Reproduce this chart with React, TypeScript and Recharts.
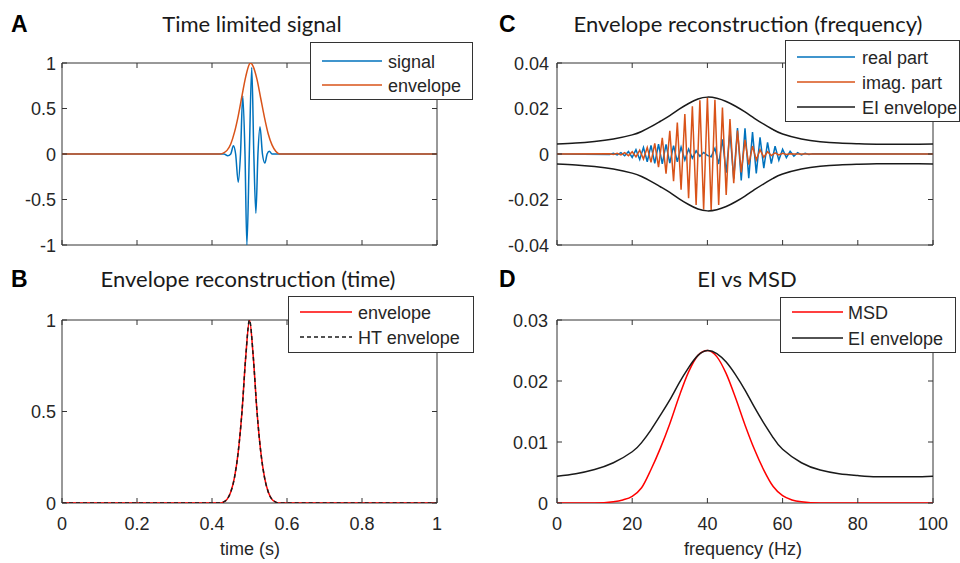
import React from "react";
import { LineChart, Line, XAxis, YAxis, ReferenceArea } from "recharts";

// ---- tick values ----
const timeTicks = [0, 0.2, 0.4, 0.6, 0.8, 1];
const freqTicks = [0, 20, 40, 60, 80, 100];
const aTicksY = [-1, -0.5, 0, 0.5, 1];
const bTicksY = [0, 0.5, 1];
const cTicksY = [-0.04, -0.02, 0, 0.02, 0.04];
const dTicksY = [0, 0.01, 0.02, 0.03];

// ---- A: time limited signal ----
const sigT = [0, 0.432, 0.442, 0.45, 0.457, 0.463, 0.47, 0.476, 0.482, 0.488, 0.493, 0.4995, 0.506, 0.5115, 0.517, 0.5225, 0.528, 0.5345, 0.541, 0.547, 0.553, 0.56, 1];
const sigV = [0, 0, -0.02, 0, 0.09, 0, -0.31, 0, 0.64, 0, -1.0, 0, 0.95, 0, -0.65, 0, 0.3, 0, -0.1, 0, 0.03, 0, 0];
const envAT = [0, 0.42, 0.43, 0.44, 0.45, 0.46, 0.47, 0.48, 0.49, 0.5, 0.503, 0.51, 0.52, 0.53, 0.54, 0.55, 0.56, 0.57, 0.58, 1];
const envAV = [0, 0, 0.01, 0.04, 0.11, 0.24, 0.42, 0.64, 0.85, 0.99, 1.0, 0.96, 0.82, 0.61, 0.4, 0.22, 0.1, 0.03, 0, 0];

// ---- B: envelope reconstruction (time) ----
const envBT = [0, 0.42, 0.43, 0.44, 0.45, 0.46, 0.47, 0.48, 0.49, 0.5, 0.51, 0.52, 0.53, 0.54, 0.55, 0.56, 0.57, 0.58, 1];
const envBV = [0, 0, 0.005, 0.02, 0.06, 0.14, 0.28, 0.5, 0.8, 1.0, 0.8, 0.5, 0.28, 0.14, 0.06, 0.02, 0.005, 0, 0];
const htEnvV = [0, 0, 0.005, 0.02, 0.06, 0.14, 0.28, 0.5, 0.8, 1.0, 0.8, 0.5, 0.28, 0.14, 0.06, 0.02, 0.005, 0, 0];

// ---- C: envelope reconstruction (frequency), 1 Hz bins ----
const cFreq = [0, 14, 15, 16, 17, 18, 19, 20, 21, 22, 23, 24, 25, 26, 27, 28, 29, 30, 31, 32, 33, 34, 35, 36, 37, 38, 39, 40, 41, 42, 43, 44, 45, 46, 47, 48, 49, 50, 51, 52, 53, 54, 55, 56, 57, 58, 59, 60, 61, 62, 63, 64, 65, 66, 67, 68, 100];
const realPart = [0,
  -0.0002, 0.0003, -0.0004, 0.0006, -0.0008, 0.0011, -0.0015, 0.0019, -0.0024, 0.0029,
  -0.0034, 0.0038, -0.0041, 0.0043, -0.0043, 0.0042, -0.004, 0.0037, -0.0034, 0.003,
  -0.0026, 0.0022, -0.0018, 0.0014, -0.001, 0.0007, -0.0006, -0.0012, 0.0025, -0.0044,
  0.0064, -0.0082, 0.0097, -0.0108, 0.0114, -0.0116, 0.0113, -0.0106, 0.0096, -0.0085,
  0.0073, -0.0062, 0.0051, -0.0042, 0.0034, -0.0027, 0.0021, -0.0016, 0.0012, -0.0009,
  0.0006, -0.0004, 0.0003, -0.0002, 0.0001, 0];
const imagPart = [0,
  0.0001, -0.0002, 0.0003, -0.0004, 0.0006, -0.0008, 0.001, -0.0013, 0.0017, -0.0022,
  0.0029, -0.0037, 0.0047, -0.0058, 0.0071, -0.0086, 0.0102, -0.012, 0.0138, -0.0157,
  0.0176, -0.0194, 0.021, -0.0224, 0.0236, -0.0244, 0.0248, -0.0246, 0.0238, -0.0224,
  0.0204, -0.018, 0.0154, -0.0128, 0.0103, -0.0081, 0.0062, -0.0047, 0.0035, -0.0026,
  0.0019, -0.0014, 0.001, -0.0007, 0.0005, -0.0004, 0.0003, -0.0002, 0.0001, 0,
  0, 0, 0, 0, 0, 0];

// ---- EI envelope (C and D) ----
const eiFreq = [0, 5, 10, 15, 20, 22.5, 25, 27.5, 30, 32.5, 35, 37.5, 40, 42.5, 45, 47.5, 50, 52.5, 55, 57.5, 60, 65, 70, 75, 80, 85, 90, 95, 100];
const eiUpper = [0.0044, 0.0048, 0.0055, 0.0066, 0.0084, 0.0099, 0.012, 0.0144, 0.0169, 0.0197, 0.0222, 0.0242, 0.025, 0.0245, 0.0231, 0.021, 0.0185, 0.0157, 0.0131, 0.0107, 0.0088, 0.0066, 0.0054, 0.0048, 0.0045, 0.0043, 0.0043, 0.0043, 0.0044];
const eiLower = [-0.0044, -0.0048, -0.0055, -0.0066, -0.0084, -0.0099, -0.012, -0.0144, -0.0169, -0.0197, -0.0222, -0.0242, -0.025, -0.0245, -0.0231, -0.021, -0.0185, -0.0157, -0.0131, -0.0107, -0.0088, -0.0066, -0.0054, -0.0048, -0.0045, -0.0043, -0.0043, -0.0043, -0.0044];

// ---- D: MSD ----
const msdFreq = [0, 10, 15, 17.5, 20, 22.5, 25, 27.5, 30, 32.5, 35, 37.5, 40, 42.5, 45, 47.5, 50, 52.5, 55, 57.5, 60, 62.5, 65, 70, 100];
const msdV = [0, 0, 0.0002, 0.0005, 0.0011, 0.0025, 0.0055, 0.009, 0.013, 0.0175, 0.0215, 0.0242, 0.025, 0.024, 0.0212, 0.0172, 0.0128, 0.0088, 0.0054, 0.0027, 0.0012, 0.0005, 0.0002, 0, 0];

const BLUE = "#0072BD";
const ORANGE = "#D95319";
const RED = "#FF0000";
const BLACK = "#1a1a1a";
const AXIS = "#333333";
const FONT = "'Liberation Sans', Arial, sans-serif";
const TITLE_FONT = "Lato, 'Open Sans', sans-serif";
const TICK_LEN = 5;

const zip = (xs: number[], ys: number[]) => xs.map((x, i) => ({ x, y: ys[i] }));
const fmt = (v: number) => String(Math.round(v * 1000) / 1000);

type Series = { name: string; data: { x: number; y: number }[]; color: string; dash?: string; curve: "linear" | "monotone" | "natural" };

function Panel(props: {
  left: number; top: number; width: number; height: number;
  margin: { top: number; right: number; left: number; bottom: number };
  yWidth: number; xHeight: number; yMargin: number;
  xDomain: number[]; yDomain: number[]; xTicks: number[]; yTicks: number[];
  xLabels: boolean; series: Series[];
}) {
  const plotL = props.margin.left + props.yWidth;
  const plotR = props.width - props.margin.right;
  const plotT = props.margin.top;
  const plotB = props.height - props.margin.bottom - props.xHeight;

  // MATLAB style: inward ticks on all four sides
  const xTick = (p: any) => (
    <g>
      <line x1={p.x} x2={p.x} y1={plotB} y2={plotB - TICK_LEN} stroke={AXIS} />
      <line x1={p.x} x2={p.x} y1={plotT} y2={plotT + TICK_LEN} stroke={AXIS} />
      {props.xLabels && (
        <text x={p.x} y={plotB + 27} textAnchor="middle" fontSize={18} fontFamily={FONT} fill="#262626">
          {fmt(p.payload.value)}
        </text>
      )}
    </g>
  );
  const yTick = (p: any) => (
    <g>
      <line x1={plotL} x2={plotL + TICK_LEN} y1={p.y} y2={p.y} stroke={AXIS} />
      <line x1={plotR} x2={plotR - TICK_LEN} y1={p.y} y2={p.y} stroke={AXIS} />
      <text x={plotL - props.yMargin} y={p.y + 6.5} textAnchor="end" fontSize={18} fontFamily={FONT} fill="#262626">
        {fmt(p.payload.value)}
      </text>
    </g>
  );

  return (
    <div style={{ position: "absolute", left: props.left, top: props.top }}>
      <LineChart width={props.width} height={props.height} margin={props.margin}>
        <XAxis type="number" dataKey="x" domain={props.xDomain} ticks={props.xTicks}
          allowDataOverflow height={props.xHeight} tickSize={0} tickLine={false} axisLine={false}
          tick={xTick} interval={0} />
        <YAxis type="number" domain={props.yDomain} ticks={props.yTicks} allowDataOverflow
          width={props.yWidth} tickSize={0} tickLine={false} axisLine={false} tick={yTick} interval={0} />
        {props.series.map((s, i) => (
          <Line key={i} data={s.data} dataKey="y" type={s.curve}
            stroke={s.color} strokeWidth={1.5} strokeDasharray={s.dash} dot={false}
            isAnimationActive={false} />
        ))}
        <ReferenceArea x1={props.xDomain[0]} x2={props.xDomain[1]} y1={props.yDomain[0]} y2={props.yDomain[1]}
          fill="none" fillOpacity={0} stroke={AXIS} strokeWidth={1} ifOverflow="visible" />
      </LineChart>
    </div>
  );
}

function LegendBox(props: { x: number; y: number; w: number; h: number; rows: number[]; lineX: number[]; textX: number; items: { name: string; color: string; dash?: string }[] }) {
  return (
    <g>
      <rect x={props.x + 0.5} y={props.y + 0.5} width={props.w} height={props.h} fill="#fff" stroke={AXIS} strokeWidth={1} />
      {props.items.map((it, i) => (
        <g key={it.name}>
          <line x1={props.lineX[0]} x2={props.lineX[1]} y1={props.rows[i]} y2={props.rows[i]} stroke={it.color}
            strokeWidth={1.5} strokeDasharray={it.dash} />
          <text x={props.textX} y={props.rows[i] + 6.5} fontSize={18} fontFamily={FONT} fill="#262626">{it.name}</text>
        </g>
      ))}
    </g>
  );
}

export default function App() {
  const seriesA: Series[] = [
    { name: "signal", data: zip(sigT, sigV), color: BLUE, curve: "monotone" },
    { name: "envelope", data: zip(envAT, envAV), color: ORANGE, curve: "monotone" },
  ];
  const seriesB: Series[] = [
    { name: "envelope", data: zip(envBT, envBV), color: RED, curve: "monotone" },
    { name: "HT envelope", data: zip(envBT, htEnvV), color: BLACK, dash: "4 3", curve: "monotone" },
  ];
  const seriesC: Series[] = [
    { name: "real part", data: zip(cFreq, realPart), color: BLUE, curve: "linear" },
    { name: "imag. part", data: zip(cFreq, imagPart), color: ORANGE, curve: "linear" },
    { name: "EI envelope", data: zip(eiFreq, eiUpper), color: BLACK, curve: "natural" },
    { name: "EI lower", data: zip(eiFreq, eiLower), color: BLACK, curve: "natural" },
  ];
  const seriesD: Series[] = [
    { name: "MSD", data: zip(msdFreq, msdV), color: RED, curve: "monotone" },
    { name: "EI envelope", data: zip(eiFreq, eiUpper), color: BLACK, curve: "natural" },
  ];

  return (
    <div style={{ position: "absolute", left: 0, top: 0, width: 960, height: 563, background: "#fff", overflow: "hidden" }}>
      <Panel left={0} top={0} width={480} height={260} margin={{ top: 63, right: 43, left: 0, bottom: 0 }}
        yWidth={62} xHeight={15} yMargin={6} xDomain={[0, 1]} yDomain={[-1, 1]} xTicks={timeTicks} yTicks={aTicksY}
        xLabels={false} series={seriesA} />
      <Panel left={480} top={0} width={480} height={260} margin={{ top: 63, right: 27, left: 0, bottom: 0 }}
        yWidth={77} xHeight={15} yMargin={8} xDomain={[0, 100]} yDomain={[-0.04, 0.04]} xTicks={freqTicks} yTicks={cTicksY}
        xLabels={false} series={seriesC} />
      <Panel left={0} top={260} width={480} height={303} margin={{ top: 60, right: 43, left: 0, bottom: 0 }}
        yWidth={62} xHeight={60} yMargin={6} xDomain={[0, 1]} yDomain={[0, 1]} xTicks={timeTicks} yTicks={bTicksY}
        xLabels={true} series={seriesB} />
      <Panel left={480} top={260} width={480} height={303} margin={{ top: 60, right: 27, left: 0, bottom: 0 }}
        yWidth={77} xHeight={60} yMargin={9} xDomain={[0, 100]} yDomain={[0, 0.03]} xTicks={freqTicks} yTicks={dTicksY}
        xLabels={true} series={seriesD} />

      <svg width={960} height={563} style={{ position: "absolute", left: 0, top: 0, pointerEvents: "none" }}>
        <g fontFamily={FONT} fontWeight="bold" fontSize={23} fill="#000">
          <text x={11} y={32}>A</text>
          <text x={499} y={32}>C</text>
          <text x={11} y={287}>B</text>
          <text x={499} y={287}>D</text>
        </g>
        <g fontFamily={TITLE_FONT} fontSize={22} fill="#1a1a1a" textAnchor="middle">
          <text x={252} y={32}>Time limited signal</text>
          <text x={748} y={32}>Envelope reconstruction (frequency)</text>
          <text x={248} y={287}>Envelope reconstruction (time)</text>
          <text x={747} y={287}>EI vs MSD</text>
        </g>
        <g fontFamily={FONT} fontSize={18} fill="#262626" textAnchor="middle">
          <text x={250} y={555}>time (s)</text>
          <text x={743} y={555}>frequency (Hz)</text>
        </g>
        <LegendBox x={310} y={42} w={162} h={57} rows={[61, 85]} lineX={[322, 382]} textX={388}
          items={seriesA} />
        <LegendBox x={785} y={40} w={174} h={81} rows={[57, 82, 107]} lineX={[797, 855]} textX={862}
          items={seriesC.slice(0, 3)} />
        <LegendBox x={288} y={296} w={185} h={56} rows={[312, 337]} lineX={[300, 352]} textX={358}
          items={seriesB} />
        <LegendBox x={780} y={297} w={175} h={55} rows={[312, 338]} lineX={[792, 843]} textX={848}
          items={seriesD} />
      </svg>
    </div>
  );
}
